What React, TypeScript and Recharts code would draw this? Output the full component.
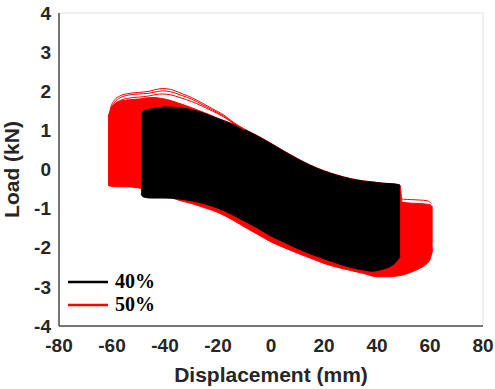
import {
  ComposedChart,
  Area,
  Line,
  XAxis,
  YAxis,
  CartesianGrid,
  Legend,
} from "recharts";

// tick marks
const xTicks = [-80, -60, -40, -20, 0, 20, 40, 60, 80];
const yTicks = [-4, -3, -2, -1, 0, 1, 2, 3, 4];

// 40% loops: envelope of all cycles
const blackX = [-49, -48.5, -47, -45, -40, -35, -30, -25, -20, -15, -10, -5, 0, 5, 10, 15, 20, 25, 30, 35, 38, 42, 45, 47, 48.7];
const blackUpper = [1.38, 1.48, 1.52, 1.55, 1.6, 1.58, 1.53, 1.43, 1.3, 1.17, 1.02, 0.85, 0.66, 0.46, 0.27, 0.1, -0.04, -0.15, -0.24, -0.3, -0.32, -0.35, -0.36, -0.37, -0.4];
const blackLower = [-0.62, -0.69, -0.72, -0.73, -0.73, -0.75, -0.8, -0.88, -0.99, -1.14, -1.32, -1.5, -1.7, -1.86, -2.02, -2.16, -2.28, -2.4, -2.5, -2.57, -2.6, -2.55, -2.48, -2.38, -2.22];

// 50% loops: envelope of all cycles
const redX = [-61.5, -61, -60, -58, -55, -50, -45, -40, -35, -30, -25, -20, -15, -10, -5, 0, 5, 10, 15, 20, 25, 30, 35, 40, 45, 48.7, 49.5, 53, 56, 58, 60, 61];
const redUpper = [1.35, 1.45, 1.6, 1.72, 1.77, 1.8, 1.84, 1.8, 1.7, 1.58, 1.45, 1.31, 1.18, 1.03, 0.86, 0.67, 0.47, 0.28, 0.11, -0.03, -0.14, -0.23, -0.29, -0.33, -0.37, -0.4, -0.84, -0.86, -0.87, -0.88, -0.9, -0.96];
const redLower = [-0.4, -0.42, -0.43, -0.44, -0.44, -0.47, -0.55, -0.66, -0.78, -0.87, -0.98, -1.1, -1.27, -1.47, -1.66, -1.85, -2.0, -2.14, -2.27, -2.4, -2.5, -2.58, -2.66, -2.74, -2.74, -2.71, -2.7, -2.62, -2.53, -2.45, -2.3, -2.05];

// outermost 50% cycles (peaks above the band)
const redOuterX = [-61, -60.5, -59, -57, -54, -50, -46, -43, -41, -38, -34, -30, -26, -22, -18, -14, -10];
const redOuterA = [1.3, 1.58, 1.78, 1.88, 1.94, 1.97, 2.0, 2.05, 2.07, 2.05, 1.95, 1.84, 1.7, 1.55, 1.4, 1.2, 1.03];
const redOuterB = [1.28, 1.52, 1.72, 1.83, 1.9, 1.93, 1.95, 1.99, 2.01, 1.99, 1.9, 1.8, 1.66, 1.52, 1.37, 1.18, 1.02];
const redOuterC = [1.25, 1.48, 1.66, 1.76, 1.82, 1.85, 1.88, 1.92, 1.93, 1.91, 1.83, 1.74, 1.62, 1.49, 1.35, 1.17, 1.01];
const redEdgeX = [48.7, 50, 53, 56, 59, 60.5];
const redEdgeY = [-0.74, -0.76, -0.77, -0.78, -0.8, -0.86];

const legendItems = [
  { label: "40%", color: "#000000" },
  { label: "50%", color: "#ff0000" },
];

const band = (xs: number[], lo: number[], hi: number[]) =>
  xs.map((x, i) => ({ x, range: [lo[i], hi[i]] }));
const curve = (xs: number[], ys: number[]) => xs.map((x, i) => ({ x, y: ys[i] }));

const blackData = band(blackX, blackLower, blackUpper);
const redData = band(redX, redLower, redUpper);
const redOuters = [redOuterA, redOuterB, redOuterC].map((ys) => curve(redOuterX, ys));
const redEdge = curve(redEdgeX, redEdgeY);

const tickStyle = {
  fontFamily: "Liberation Sans, Arial, sans-serif",
  fontWeight: 700,
  fontSize: 19,
  fill: "#262626",
};
const labelFont = "Liberation Sans, Arial, sans-serif";

function LegendBox() {
  return (
    <div style={{ fontFamily: "Liberation Serif, Times New Roman, serif", fontWeight: 700, fontSize: 20 }}>
      {legendItems.map((it) => (
        <div key={it.label} style={{ display: "flex", alignItems: "center", height: 23 }}>
          <svg width={40} height={4} style={{ marginRight: 7 }}>
            <line x1={0} y1={2} x2={40} y2={2} stroke={it.color} strokeWidth={2.5} />
          </svg>
          <span style={{ color: "#000" }}>{it.label}</span>
        </div>
      ))}
    </div>
  );
}

export default function App() {
  return (
    <div style={{ position: "fixed", left: 0, top: 0, background: "#fff" }}>
      <ComposedChart width={495} height={389} margin={{ top: 13, right: 12, left: 0, bottom: 0 }}>
        <CartesianGrid stroke="#e2e2e2" strokeWidth={1} />
        <XAxis
          xAxisId="b"
          type="number"
          dataKey="x"
          domain={[-80, 80]}
          ticks={xTicks}
          height={63}
          tickLine={false}
          axisLine={{ stroke: "#4d4d4d", strokeWidth: 1.5 }}
          tick={tickStyle}
          tickMargin={7}
          allowDataOverflow
          label={{
            content: (p: any) => (
              <text
                x={p.viewBox.x + p.viewBox.width / 2}
                y={382}
                textAnchor="middle"
                fontFamily={labelFont}
                fontWeight={700}
                fontSize={21}
                fill="#262626"
              >
                Displacement (mm)
              </text>
            ),
          }}
        />
        <XAxis xAxisId="t" type="number" orientation="top" domain={[-80, 80]} height={0} tick={false} tickLine={false} axisLine={{ stroke: "#4d4d4d", strokeWidth: 1.5 }} />
        <YAxis
          yAxisId="l"
          type="number"
          domain={[-4, 4]}
          ticks={yTicks}
          width={59}
          tickLine={false}
          axisLine={{ stroke: "#4d4d4d", strokeWidth: 1.5 }}
          tick={tickStyle}
          tickMargin={2}
          allowDataOverflow
          label={{
            content: (p: any) => {
              const cy = p.viewBox.y + p.viewBox.height / 2;
              return (
                <text
                  x={19}
                  y={cy}
                  transform={`rotate(-90 19 ${cy})`}
                  textAnchor="middle"
                  fontFamily={labelFont}
                  fontWeight={700}
                  fontSize={21}
                  fill="#262626"
                >
                  Load (kN)
                </text>
              );
            },
          }}
        />
        <YAxis yAxisId="r" orientation="right" type="number" domain={[-4, 4]} width={0} tick={false} tickLine={false} axisLine={{ stroke: "#4d4d4d", strokeWidth: 1.5 }} />

        <Area
          xAxisId="b"
          yAxisId="l"
          data={redData}
          dataKey="range"
          type="monotone"
          fill="#ff0000"
          fillOpacity={1}
          stroke="#ff0000"
          strokeWidth={1}
          isAnimationActive={false}
        />
        {redOuters.map((d, i) => (
          <Line
            key={i}
            xAxisId="b"
            yAxisId="l"
            data={d}
            dataKey="y"
            type="monotone"
            stroke="#ff0000"
            strokeWidth={1}
            dot={false}
            isAnimationActive={false}
          />
        ))}
        <Line
          xAxisId="b"
          yAxisId="l"
          data={redEdge}
          dataKey="y"
          type="monotone"
          stroke="#ff0000"
          strokeWidth={1}
          dot={false}
          isAnimationActive={false}
        />
        <Area
          xAxisId="b"
          yAxisId="l"
          data={blackData}
          dataKey="range"
          type="monotone"
          fill="#000000"
          fillOpacity={1}
          stroke="#000000"
          strokeWidth={1}
          isAnimationActive={false}
        />
        <Legend
          layout="vertical"
          align="center"
          verticalAlign="middle"
          content={() => <LegendBox />}
          wrapperStyle={{ left: 68, top: 270, width: 100 }}
        />
      </ComposedChart>
    </div>
  );
}
